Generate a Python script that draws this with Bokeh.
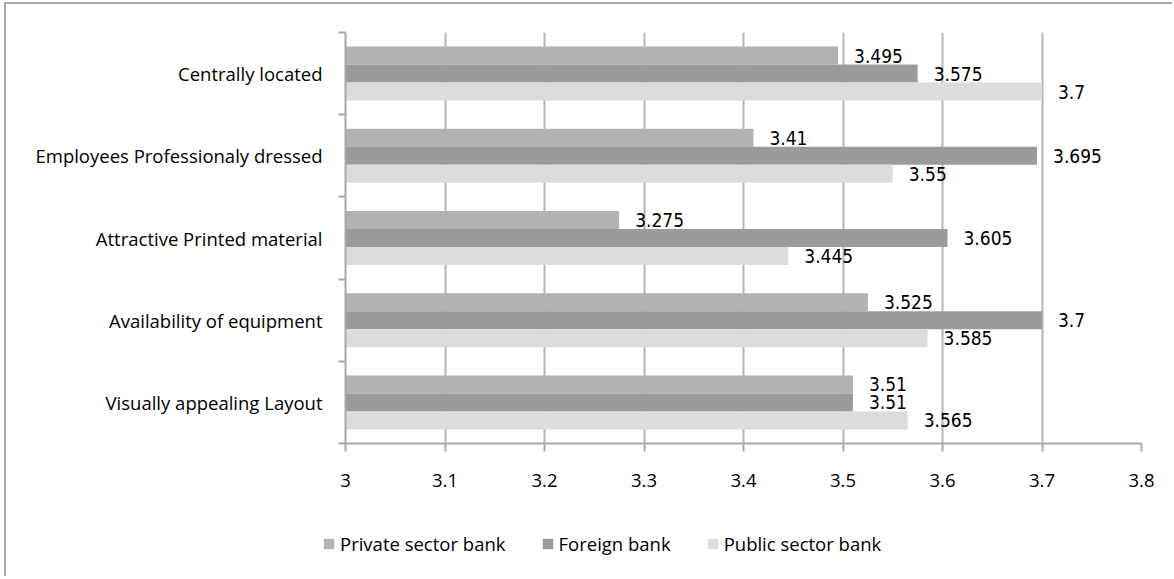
from bokeh.plotting import figure
from bokeh.layouts import column
from bokeh.models import (ColumnDataSource, Range1d, LinearAxis, FixedTicker,
                          Legend, LegendItem)
from bokeh.core.properties import value
from bokeh.embed import file_html
from bokeh.resources import INLINE

# Survey scores per tangibles item, top row first
categories = [
    "Centrally located",
    "Employees Professionaly dressed",
    "Attractive Printed material",
    "Availability of equipment",
    "Visually appealing Layout",
]
private_sector = [3.495, 3.41, 3.275, 3.525, 3.51]
foreign_bank = [3.575, 3.695, 3.605, 3.7, 3.51]
public_sector = [3.7, 3.55, 3.445, 3.585, 3.565]

series_names = ["Private sector bank", "Foreign bank", "Public sector bank"]
series_values = [private_sector, foreign_bank, public_sector]
series_colors = ["#b2b2b2", "#9b9b9b", "#dcdcdc"]

x_ticks = [3.0, 3.1, 3.2, 3.3, 3.4, 3.5, 3.6, 3.7, 3.8]
x_tick_labels = ["3", "3.1", "3.2", "3.3", "3.4", "3.5", "3.6", "3.7", "3.8"]

LABEL_FONT = "Open Sans"
LABEL_SIZE = "18.5px"
VALUE_FONT = "DejaVu Sans Condensed"
AXIS_GREY = "#a8a8a8"
FRAME_BORDER = "2px solid #a9a9a9"

n = len(categories)
bar_h = 0.219
centers = [n - 0.5 - i for i in range(n)]
offsets = [bar_h, 0.0, -bar_h]

W = 1168
p = figure(
    width=W, height=505,
    x_range=Range1d(x_ticks[0], x_ticks[-1]),
    y_range=Range1d(0, n),
    output_backend="svg", toolbar_location=None,
    x_axis_location=None, y_axis_location=None,
    min_border_left=339, min_border_right=33,
    min_border_top=28, min_border_bottom=66,
    background_fill_color="white", border_fill_color="white",
    styles={"border-left": FRAME_BORDER, "border-top": FRAME_BORDER},
)
p.frame_align = False
p.outline_line_color = None
p.ygrid.visible = False
p.xgrid.ticker = FixedTicker(ticks=x_ticks)
p.xgrid.grid_line_color = "#b5b5b5"
p.xgrid.grid_line_width = 2

# value axis along the bottom
xaxis = LinearAxis(
    ticker=FixedTicker(ticks=x_ticks),
    major_label_overrides={t: s for t, s in zip(x_ticks, x_tick_labels)},
)
xaxis.axis_line_color = AXIS_GREY
xaxis.axis_line_width = 2
xaxis.major_tick_line_color = AXIS_GREY
xaxis.major_tick_line_width = 2
xaxis.major_tick_out = 8
xaxis.major_tick_in = 0
xaxis.minor_tick_line_color = None
xaxis.major_label_standoff = 22
xaxis.major_label_text_font = LABEL_FONT
xaxis.major_label_text_font_size = LABEL_SIZE
xaxis.major_label_text_color = "#000000"
p.add_layout(xaxis, "below")

# category axis: names at slot centres, tick marks at slot boundaries
yaxis = LinearAxis(
    ticker=FixedTicker(ticks=centers, minor_ticks=list(range(n + 1))),
    major_label_overrides={c: name for c, name in zip(centers, categories)},
)
yaxis.axis_line_color = AXIS_GREY
yaxis.axis_line_width = 2
yaxis.major_tick_line_color = None
yaxis.major_tick_out = 0
yaxis.major_tick_in = 0
yaxis.minor_tick_line_color = AXIS_GREY
yaxis.minor_tick_line_width = 2
yaxis.minor_tick_out = 7
yaxis.minor_tick_in = 0
yaxis.major_label_standoff = 16
yaxis.major_label_text_font = LABEL_FONT
yaxis.major_label_text_font_size = LABEL_SIZE
yaxis.major_label_text_color = "#000000"
p.add_layout(yaxis, "left")

for vals, color, off in zip(series_values, series_colors, offsets):
    src = ColumnDataSource(dict(
        y=[c + off for c in centers],
        v=vals,
        label=[f"{v:g}" for v in vals],
    ))
    p.hbar(y="y", left=x_ticks[0], right="v", height=bar_h, source=src,
           fill_color=color, line_color=None)
    p.text(x="v", y="y", text="label", source=src, x_offset=16,
           text_baseline="middle", text_align="left",
           text_font=value(VALUE_FONT), text_font_size="19px",
           text_color="#000000")

# legend strip underneath the chart; its swatch renderers sit outside the view
lg = figure(
    width=W, height=69,
    x_range=Range1d(0, 1), y_range=Range1d(0, 1),
    output_backend="svg", toolbar_location=None,
    x_axis_location=None, y_axis_location=None,
    min_border=0, min_border_left=0, min_border_right=0,
    min_border_top=0, min_border_bottom=0,
    background_fill_color="white", border_fill_color="white",
    styles={"border-left": FRAME_BORDER},
)
lg.frame_align = False
lg.outline_line_color = None
lg.xgrid.visible = False
lg.ygrid.visible = False
swatches = []
for name, color in zip(series_names, series_colors):
    r = lg.hbar(y=[-1], left=[-2], right=[-1.5], height=0.1,
                fill_color=color, line_color=None)
    swatches.append(LegendItem(label=name, renderers=[r]))

legend = Legend(
    items=swatches, orientation="horizontal",
    location=(316, 20),
    padding=0, margin=0, spacing=35,
    glyph_width=13, glyph_height=13, label_standoff=5,
    label_text_font=LABEL_FONT, label_text_font_size=LABEL_SIZE,
    label_text_color="#000000",
    border_line_color=None, background_fill_alpha=0,
)
lg.add_layout(legend, "center")

page = column(p, lg, spacing=0, styles={"margin-left": "4px", "margin-top": "2px"})

open("out.html", "w").write(file_html(page, INLINE))
